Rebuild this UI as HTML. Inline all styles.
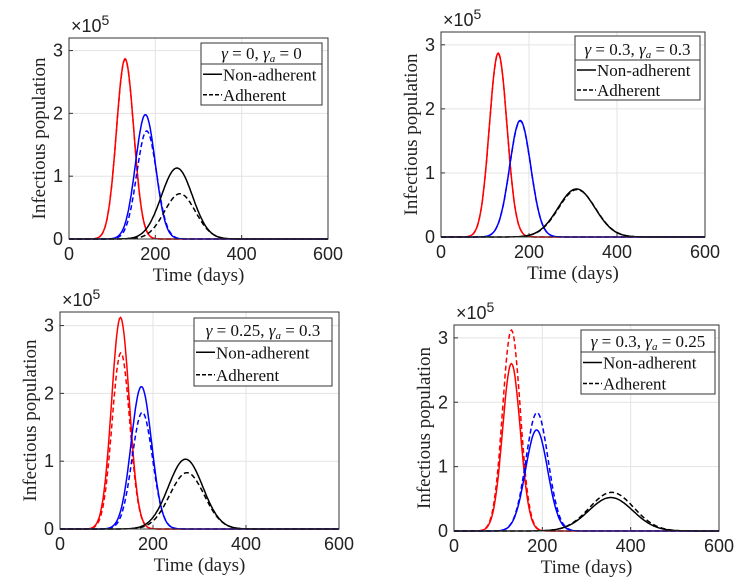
<!DOCTYPE html>
<html><head><meta charset="utf-8"><style>
body{margin:0;background:#fff}
svg{display:block}
.tick{font-family:"Liberation Sans",sans-serif;font-size:18px;fill:#222}
.lab{font-family:"Liberation Serif",serif;font-size:19px;fill:#222}
.leg{font-family:"Liberation Serif",serif;font-size:17px;fill:#111}
</style></head><body>
<svg id="c" width="740" height="580" viewBox="0 0 740 580"></svg>
<script>
// Panel titles
const panelTitles = ["γ = 0, γa = 0","γ = 0.3, γa = 0.3","γ = 0.25, γa = 0.3","γ = 0.3, γa = 0.25"];
const gammaVals = ["0","0.3","0.25","0.3"];
const gammaAVals = ["0","0.3","0.3","0.25"];
const xTicks = [0,200,400,600];
const yTicks = [0,1,2,3];
// Peak day per series [redSolid, redDash, blueSolid, blueDash, blackSolid, blackDash]
const peakDays = [
 [130,130,177,180,250,257],
 [130,130,180,180,308,309],
 [130,131,175,177,270,273],
 [130,130,187,188,355,357]];
// Peak values (x10^5)
const peakVals = [
 [2.87,2.86,1.98,1.72,1.13,0.72],
 [2.87,2.86,1.82,1.81,0.75,0.74],
 [3.12,2.60,2.10,1.72,1.03,0.83],
 [2.60,3.12,1.57,1.84,0.52,0.60]];
// Spread (days, std dev)
const spreads = [
 [20,20,23,23,36,36],
 [20,20,24,24,42,42],
 [19,19,22,22,37,37],
 [20,20,25,25,50,50]];
const colors=["#ff0000","#ff0000","#0000ff","#0000ff","#000000","#000000"];
const dashes=[null,"5,3",null,"5,3",null,"5,3"];
const boxes=[
 {l:69,r:328,t:38,b:239,lg:[201,322,43,64,105]},
 {l:441,r:705,t:32,b:237,lg:[575,700,36,60,100]},
 {l:60,r:339,t:312,b:529,lg:[194,332,318,341,386]},
 {l:454,r:719,t:325,b:531,lg:[581,715,330,352,394]}];
const NS="http://www.w3.org/2000/svg";
const svg=document.getElementById('c');
function mk(tag,attrs,parent){const e=document.createElementNS(NS,tag);for(const k in attrs)e.setAttribute(k,attrs[k]);(parent||svg).appendChild(e);return e;}
boxes.forEach((B,p)=>{
 const g=mk('g',{});
 
 
 const X=v=>B.l+(B.r-B.l)*v/600, Y=v=>B.b-(B.b-B.t)*v/3.2;
 xTicks.forEach(t=>{
  if(t>0&&t<600){const gl=mk('line',{x1:X(t),x2:X(t),y1:B.t,y2:B.b,stroke:'#e3e3e3'},g);
  }
  const tx=mk('text',{x:X(t),y:B.b+21,'text-anchor':'middle',class:'tick'},g);tx.textContent=t;
  
  mk('line',{x1:X(t),x2:X(t),y1:B.b,y2:B.b-4,stroke:'#333'},g);
 });
 yTicks.forEach(t=>{
  if(t>0){const gl=mk('line',{x1:B.l,x2:B.r,y1:Y(t),y2:Y(t),stroke:'#e3e3e3'},g);
  }
  const tx=mk('text',{x:B.l-6,y:Y(t)+6,'text-anchor':'end',class:'tick'},g);tx.textContent=t;
  
  mk('line',{x1:B.l,x2:B.l+4,y1:Y(t),y2:Y(t),stroke:'#333'},g);
 });
 const ex=mk('text',{x:B.l+2,y:B.t-6,class:'tick'},g);
 ex.innerHTML='×10<tspan dy="-7" font-size="14">5</tspan>';
 
 for(let s=0;s<6;s++){
  let d='';
  for(let t=0;t<=600;t+=2){const z=(t-peakDays[p][s])/spreads[p][s];const v=peakVals[p][s]*Math.exp(-z*z/2);
   d+=(t?'L':'M')+X(t).toFixed(1)+','+Y(v).toFixed(1);}
  const a={d:d,fill:'none',stroke:colors[s],'stroke-width':1.5};if(dashes[s])a['stroke-dasharray']=dashes[s];
  const pth=mk('path',a,g);
  
  
 }
 const fr=mk('rect',{x:B.l,y:B.t,width:B.r-B.l,height:B.b-B.t,fill:'none',stroke:'#333','stroke-width':1},g);
 
 const xl=mk('text',{x:(B.l+B.r)/2,y:B.b+42,'text-anchor':'middle',class:'lab'},g);xl.textContent='Time (days)';
 
 const yc=(B.t+B.b)/2;
 const yl=mk('text',{x:B.l-24,y:yc,'text-anchor':'middle',class:'lab',transform:`rotate(-90 ${B.l-24} ${yc})`},g);yl.textContent='Infectious population';
 
 const L=B.lg;
 const lg=mk('g',{},g);
 
 mk('rect',{x:L[0],y:L[2],width:L[1]-L[0],height:L[4]-L[2],fill:'#fff',stroke:'#333'},lg);
 mk('line',{x1:L[0],x2:L[1],y1:L[3],y2:L[3],stroke:'#333'},lg);
 const tt=mk('text',{x:(L[0]+L[1])/2,y:L[3]-5,'text-anchor':'middle',class:'leg','font-style':'italic'},lg);
 tt.innerHTML='γ <tspan font-style="normal">= '+gammaVals[p]+',</tspan> γ<tspan font-size="11" dy="3">a</tspan><tspan dy="-3" font-style="normal"> = '+gammaAVals[p]+'</tspan>';
 
 const rh=(L[4]-L[3])/2;
 ['Non-adherent','Adherent'].forEach((n,i)=>{
  const yy=L[3]+rh*(i+0.5);
  const a={x1:L[0]+2,x2:L[0]+21,y1:yy,y2:yy,stroke:'#000','stroke-width':1.4};if(i)a['stroke-dasharray']='4,2';
  mk('line',a,lg);
  const et=mk('text',{x:L[0]+22,y:yy+6,class:'leg'},lg);et.textContent=n;
  
 });
});
</script>
</body></html>
